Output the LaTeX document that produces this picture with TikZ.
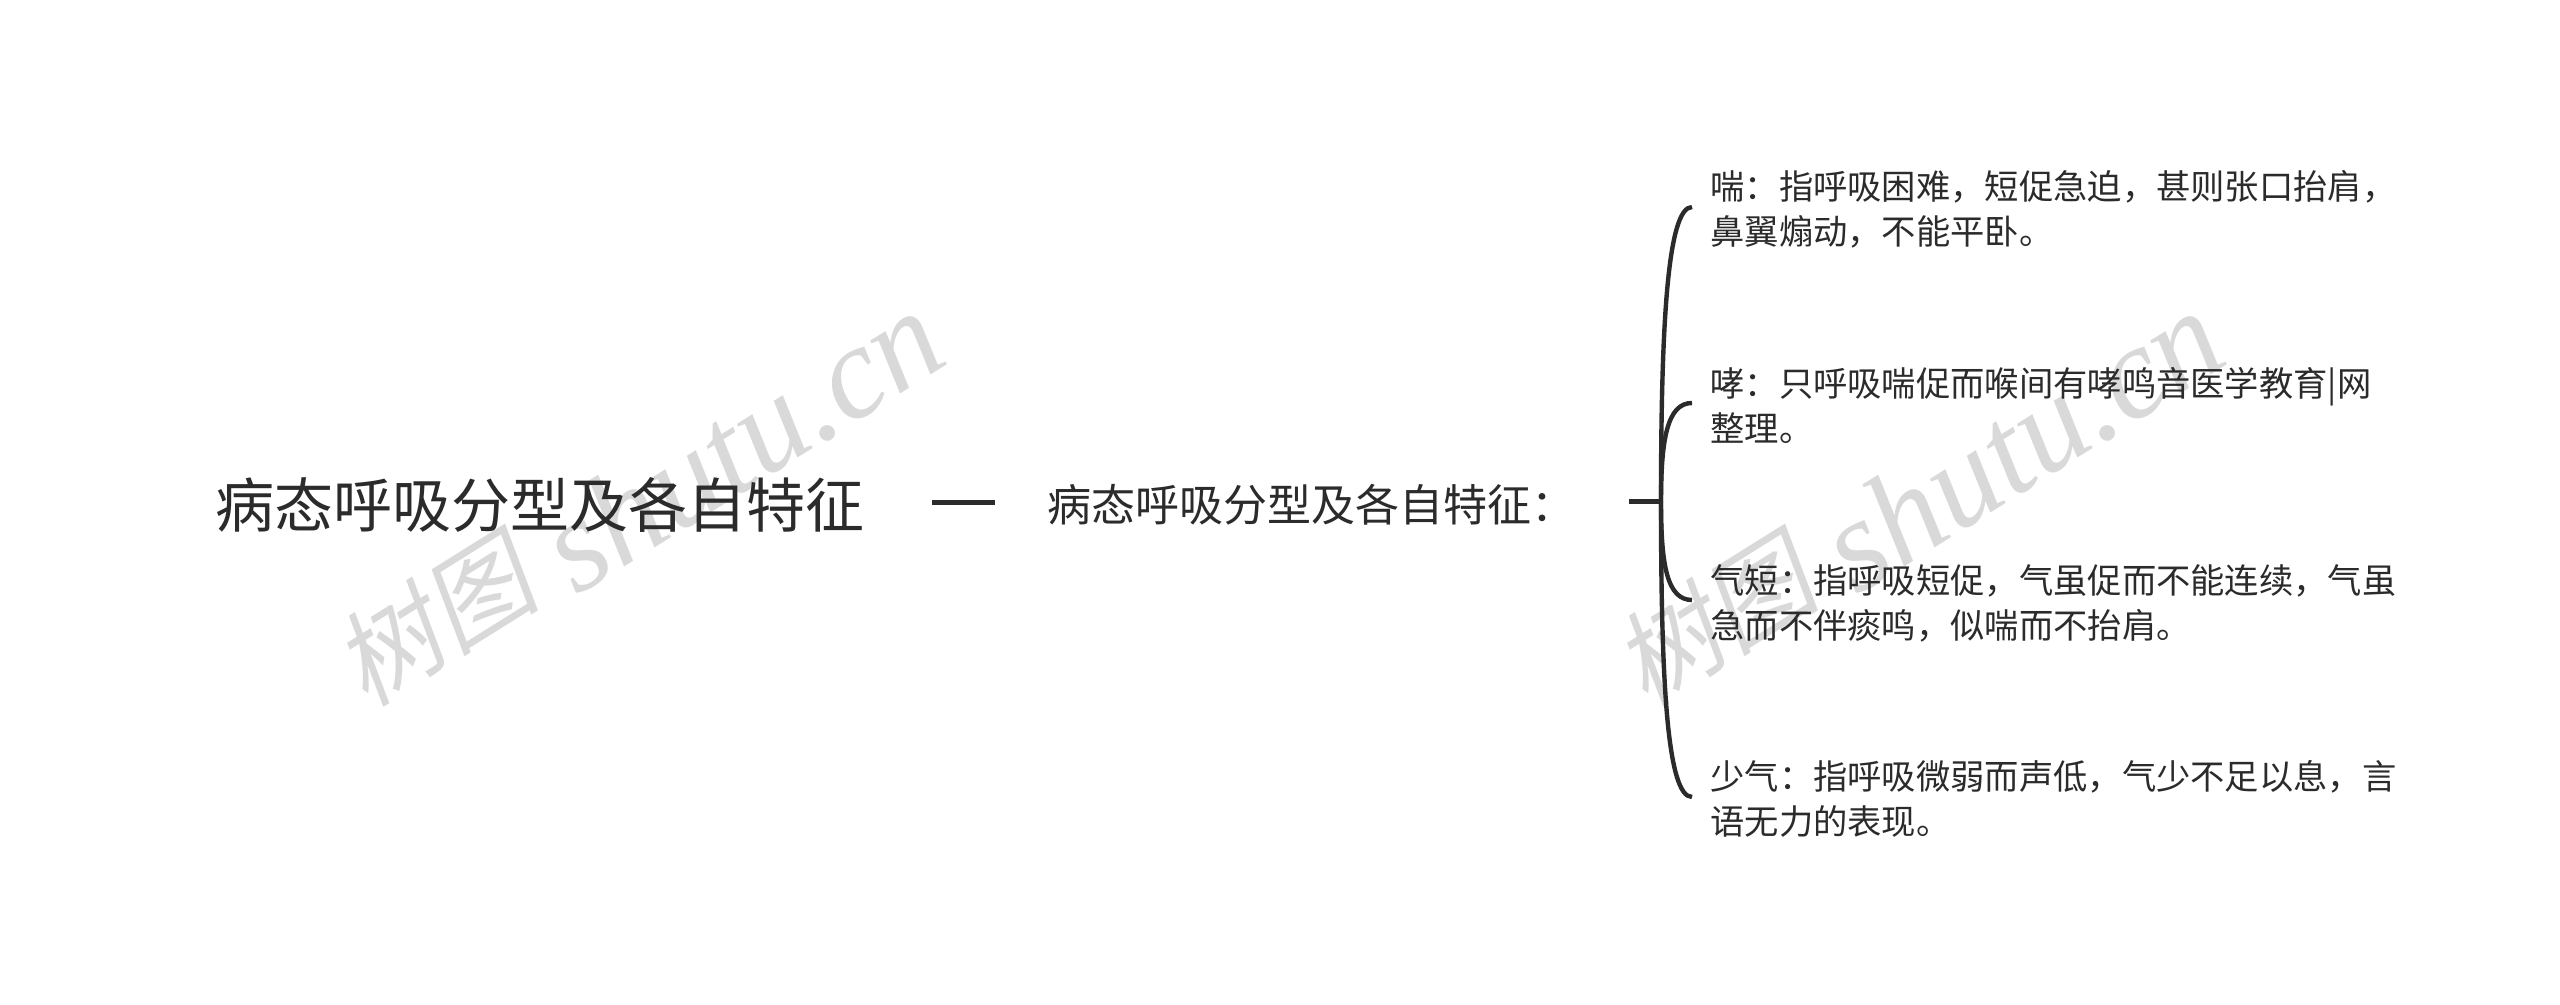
\documentclass[tikz,border=0pt]{standalone}
\usepackage{fontspec}
\setmainfont{Noto Sans CJK SC}
\newfontfamily\wmcjk[FakeSlant=0.2]{Noto Sans CJK SC}
\newfontfamily\wmlat[ItalicFont={Liberation Serif Italic}]{Liberation Serif}
\definecolor{ink}{HTML}{2B2B2B}
\definecolor{wm}{HTML}{D9D9D9}
\tikzset{
  x=0.5pt,y=-0.5pt,
  title/.style={font=\fontsize{29.5}{30}\selectfont,text=ink,inner sep=0pt,anchor=west},
  mid/.style={font=\fontsize{22}{22}\selectfont,text=ink,inner sep=0pt,anchor=west},
  leaf/.style={font=\fontsize{17.15}{22.5}\selectfont,text=ink,inner sep=0pt,anchor=west,align=left},
  wmark/.style={text=wm,inner sep=0pt,rotate=32,font=\fontsize{66}{66}\selectfont},
  link/.style={draw=ink,line width=2.5pt},
  branch/.style={draw=ink,line width=2.2pt}
}
\newcommand{\wmtext}{\raisebox{8pt}{\wmcjk\fontsize{52}{52}\selectfont 树图} {\wmlat\itshape shutu.cn}}
\begin{document}
\begin{tikzpicture}
\useasboundingbox (0,0) rectangle (2560,1005);
\fill[white] (0,0) rectangle (2560,1005);
\node[wmark,anchor=base] (w1) at (664,542) {\wmtext};
\node[wmark,anchor=base] (w2) at (1944,542) {\wmtext};
\node[title] (root) at (215,505) {病态呼吸分型及各自特征};
\node[mid] (m) at (1047,505) {病态呼吸分型及各自特征：};
\node[leaf] (a) at (1710,209.5) {喘：指呼吸困难，短促急迫，甚则张口抬肩，\\鼻翼煽动，不能平卧。};
\node[leaf] (b) at (1710,405.5) {哮：只呼吸喘促而喉间有哮鸣音医学教育|网\\整理。};
\node[leaf] (c) at (1710,603) {气短：指呼吸短促，气虽促而不能连续，气虽\\急而不伴痰鸣，似喘而不抬肩。};
\node[leaf] (d) at (1710,799) {少气：指呼吸微弱而声低，气少不足以息，言\\语无力的表现。};
\coordinate (l1) at (932,503);
\coordinate (l2) at (995,503);
\coordinate (s1) at (1629,502);
\coordinate (j) at (1661,502);
\coordinate (ea) at (1692,207);
\coordinate (eb) at (1692,403);
\coordinate (ec) at (1692,600);
\coordinate (ed) at (1692,797);
\draw[link] (l1) -- (l2);
\draw[link] (s1) -- (j);
\draw[branch] (j) .. controls (1661,330) and (1667,207) .. (ea);
\draw[branch] (j) .. controls (1661,440) and (1667,403) .. (eb);
\draw[branch] (j) .. controls (1661,565) and (1667,600) .. (ec);
\draw[branch] (j) .. controls (1661,680) and (1667,797) .. (ed);
\end{tikzpicture}
\end{document}
